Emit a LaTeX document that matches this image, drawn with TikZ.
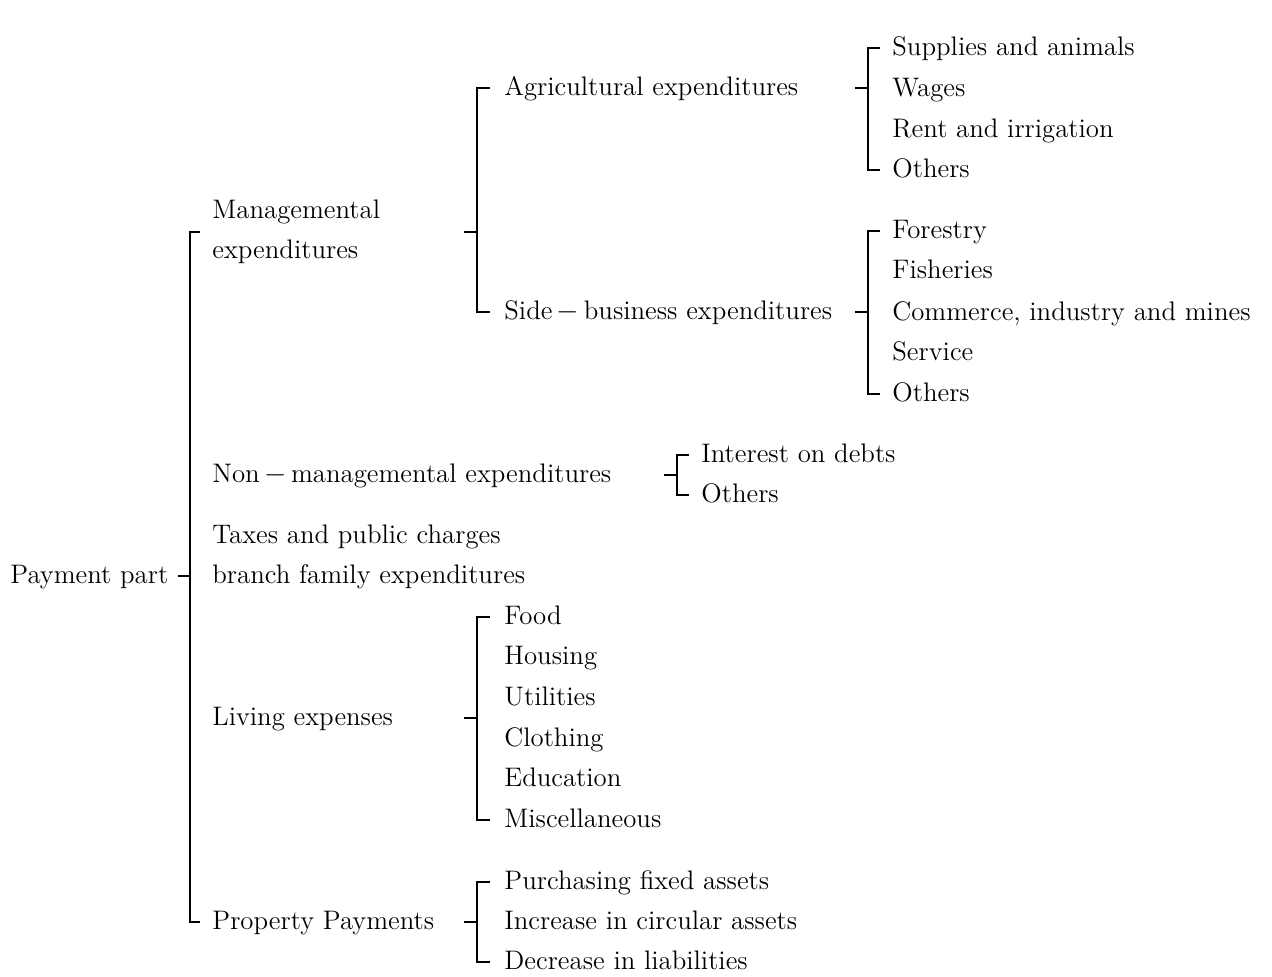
\documentclass[tikz,border=0pt]{standalone}
\usetikzlibrary{calc}
\begin{document}
\begin{tikzpicture}[x=0.5pt,y=-0.5pt,
  lbl/.style={anchor=west,inner sep=0pt,text height=2ex,text depth=.2ex,
    font=\fontsize{13.4}{20}\selectfont},
  brace/.style={line width=0.6pt}]
\useasboundingbox (0,0) rectangle (1272,977);
% root
\node[lbl] (pay) at (10,576) {Payment part};
% second level
\node[lbl,text height={},text depth={},align=left] (man) at (212,232) {Managemental\\expenditures};
\node[lbl] (non) at (212,475) {Non\,$-$\,managemental expenditures};
\node[lbl] (tax) at (212,536) {Taxes and public charges};
\node[lbl] (bra) at (212,576) {branch family expenditures};
\node[lbl] (liv) at (212,718) {Living expenses};
\node[lbl] (pro) at (212,922) {Property Payments};
% third level
\node[lbl] (agr) at (504,88) {Agricultural expenditures};
\node[lbl] (sid) at (504,312) {Side\,$-$\,business expenditures};
\node[lbl] (int) at (701,455) {Interest on debts};
\node[lbl] (oth3) at (701,495) {Others};
\node[lbl] (foo) at (504,617) {Food};
\node[lbl] (hou) at (504,657) {Housing};
\node[lbl] (uti) at (504,698) {Utilities};
\node[lbl] (clo) at (504,739) {Clothing};
\node[lbl] (edu) at (504,779) {Education};
\node[lbl] (mis) at (504,820) {Miscellaneous};
\node[lbl] (pur) at (504,882) {Purchasing fixed assets};
\node[lbl] (inc) at (504,922) {Increase in circular assets};
\node[lbl] (dec) at (504,962) {Decrease in liabilities};
% fourth level
\node[lbl] (sup) at (892,48) {Supplies and animals};
\node[lbl] (wag) at (892,89) {Wages};
\node[lbl] (ren) at (892,130) {Rent and irrigation};
\node[lbl] (oth1) at (892,170) {Others};
\node[lbl] (for) at (892,231) {Forestry};
\node[lbl] (fis) at (892,271) {Fisheries};
\node[lbl] (com) at (892,313) {Commerce, industry and mines};
\node[lbl] (ser) at (892,353) {Service};
\node[lbl] (oth2) at (892,394) {Others};
%
\draw[brace] ([xshift=-6pt]man.west) -- ([xshift=-11pt]man.west) -- ([xshift=-11pt]pro.west) -- ([xshift=-6pt]pro.west);
\draw[brace] ($(man.west |- pay.west)+(-11pt,0)$) -- ++(-6pt,0);
\draw[brace] ([xshift=-7pt]agr.west) -- ([xshift=-13.5pt]agr.west) -- ([xshift=-13.5pt]sid.west) -- ([xshift=-7pt]sid.west);
\draw[brace] ($(agr.west |- man.west)+(-13.5pt,0)$) -- ++(-6.5pt,0);
\draw[brace] ([xshift=-6pt]sup.west) -- ([xshift=-12pt]sup.west) -- ([xshift=-12pt]oth1.west) -- ([xshift=-6pt]oth1.west);
\draw[brace] ($(sup.west |- agr.west)+(-12pt,0)$) -- ++(-6.5pt,0);
\draw[brace] ([xshift=-6pt]for.west) -- ([xshift=-12pt]for.west) -- ([xshift=-12pt]oth2.west) -- ([xshift=-6pt]oth2.west);
\draw[brace] ($(for.west |- sid.west)+(-12pt,0)$) -- ++(-6.5pt,0);
\draw[brace] ([xshift=-6pt]int.west) -- ([xshift=-12pt]int.west) -- ([xshift=-12pt]oth3.west) -- ([xshift=-6pt]oth3.west);
\draw[brace] ($(int.west |- non.west)+(-12pt,0)$) -- ++(-6.5pt,0);
\draw[brace] ([xshift=-7pt]foo.west) -- ([xshift=-13.5pt]foo.west) -- ([xshift=-13.5pt]mis.west) -- ([xshift=-7pt]mis.west);
\draw[brace] ($(foo.west |- liv.west)+(-13.5pt,0)$) -- ++(-6.5pt,0);
\draw[brace] ([xshift=-7pt]pur.west) -- ([xshift=-13.5pt]pur.west) -- ([xshift=-13.5pt]dec.west) -- ([xshift=-7pt]dec.west);
\draw[brace] ($(pur.west |- pro.west)+(-13.5pt,0)$) -- ++(-6.5pt,0);
\end{tikzpicture}
\end{document}
